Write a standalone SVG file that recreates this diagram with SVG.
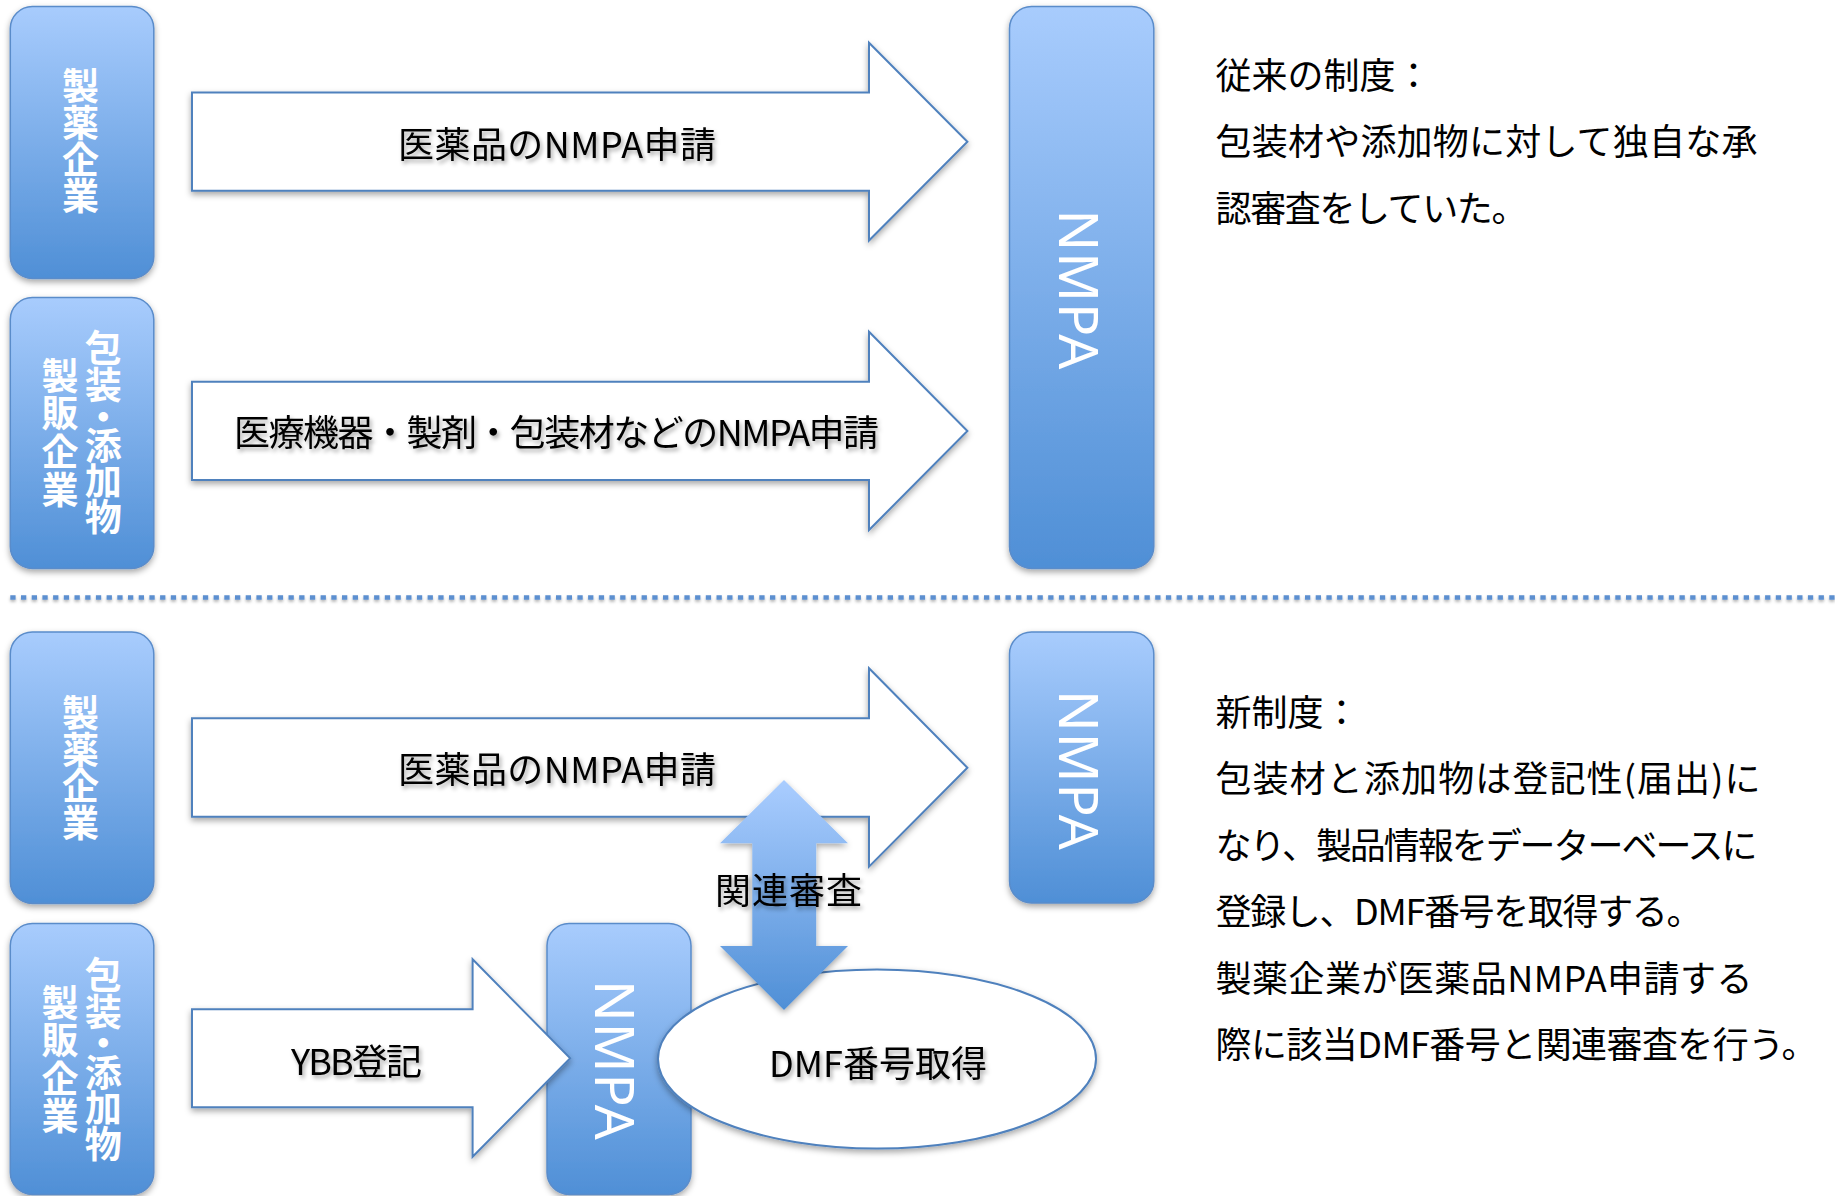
<svg xmlns="http://www.w3.org/2000/svg" width="1835" height="1196" viewBox="0 0 1835 1196">
<defs>
<linearGradient id="boxGrad" x1="0" y1="0" x2="0" y2="1">
<stop offset="0" stop-color="#a8ccfd"/>
<stop offset="1" stop-color="#4f8fd6"/>
</linearGradient>
<linearGradient id="dblGrad" gradientUnits="userSpaceOnUse" x1="0" y1="780" x2="0" y2="1010">
<stop offset="0" stop-color="#aacdff"/>
<stop offset="1" stop-color="#4f8fd6"/>
</linearGradient>
<filter id="shadow" x="-20%" y="-20%" width="140%" height="140%">
<feDropShadow dx="0" dy="3" stdDeviation="3" flood-color="#000" flood-opacity="0.35"/>
</filter>
<filter id="lshadow" filterUnits="userSpaceOnUse" x="0" y="585" width="1835" height="30">
<feDropShadow dx="0" dy="2" stdDeviation="1.5" flood-color="#000" flood-opacity="0.3"/>
</filter>
<filter id="tshadow" x="-10%" y="-30%" width="120%" height="160%">
<feDropShadow dx="2" dy="3" stdDeviation="2" flood-color="#000" flood-opacity="0.35"/>
</filter>
<style>
.box{fill:url(#boxGrad);stroke:#5a8cca;stroke-width:1.5;filter:url(#shadow)}
.boxtxt{font-family:"Noto Sans CJK JP",sans-serif;font-weight:bold;font-size:37px;fill:#fff;text-anchor:middle}
.nmpa{font-family:"Noto Sans","Liberation Sans",sans-serif;font-size:55px;fill:#fff;text-anchor:middle}
.arrow{fill:#fff;stroke:#4f81bd;stroke-width:2;filter:url(#shadow)}
.lbl{font-family:"Noto Sans CJK JP",sans-serif;font-size:36px;fill:#000;filter:url(#tshadow)}
.note{font-family:"Noto Sans CJK JP",sans-serif;font-size:36px;fill:#000}
.sep{stroke:#5b8fd0;stroke-width:4.5;stroke-dasharray:5.3 5.4;fill:none}
</style>
</defs>
<rect width="1835" height="1196" fill="#fff"/>

<g id="nodes">
<g id="pharma1">
<rect class="box" x="10.3" y="6.5" width="143.5" height="272" rx="22" ry="22"/>
<text class="boxtxt"><tspan x="80.5" y="100">製</tspan><tspan x="80.5" y="137">薬</tspan><tspan x="80.5" y="173.5">企</tspan><tspan x="80.5" y="210">業</tspan></text>
</g>
<g id="supplier1">
<rect class="box" x="10.3" y="297.5" width="143.5" height="271" rx="22" ry="22"/>
<text class="boxtxt"><tspan x="103.3" y="362">包</tspan><tspan x="103.3" y="399">装</tspan><tspan x="103.3" y="430.5">・</tspan><tspan x="103.3" y="460">添</tspan><tspan x="103.3" y="495">加</tspan><tspan x="103.3" y="531">物</tspan></text>
<text class="boxtxt"><tspan x="60" y="390">製</tspan><tspan x="60" y="427">販</tspan><tspan x="60" y="466">企</tspan><tspan x="60" y="503.5">業</tspan></text>
</g>
<g id="nmpa1">
<rect class="box" x="1009.5" y="6.5" width="144.3" height="562" rx="22" ry="22"/>
<text class="nmpa" textLength="160" transform="translate(1059,289.5) rotate(90)" x="0" y="0">NMPA</text>
</g>
<g id="note-old">
<text class="note" x="1215.5" y="88.5">従来の制度：</text>
<text class="note" x="1215.5" y="155" textLength="542">包装材や添加物に対して独自な承</text>
<text class="note" x="1215.5" y="221.5" textLength="312">認審査をしていた。</text>
</g>

<g id="pharma2">
<rect class="box" x="10.3" y="632" width="143.5" height="271.5" rx="22" ry="22"/>
<text class="boxtxt"><tspan x="80.5" y="726.5">製</tspan><tspan x="80.5" y="763.5">薬</tspan><tspan x="80.5" y="800">企</tspan><tspan x="80.5" y="836.5">業</tspan></text>
</g>
<g id="supplier2">
<rect class="box" x="10.3" y="923.5" width="143.5" height="271" rx="22" ry="22"/>
<text class="boxtxt"><tspan x="103.3" y="988.6">包</tspan><tspan x="103.3" y="1025.6">装</tspan><tspan x="103.3" y="1057.1">・</tspan><tspan x="103.3" y="1086.6">添</tspan><tspan x="103.3" y="1121.6">加</tspan><tspan x="103.3" y="1157.6">物</tspan></text>
<text class="boxtxt"><tspan x="60" y="1016.6">製</tspan><tspan x="60" y="1053.6">販</tspan><tspan x="60" y="1092.6">企</tspan><tspan x="60" y="1130.1">業</tspan></text>
</g>
<g id="nmpa2">
<rect class="box" x="1009.5" y="632" width="144.3" height="271" rx="22" ry="22"/>
<text class="nmpa" textLength="160" transform="translate(1059,770) rotate(90)" x="0" y="0">NMPA</text>
</g>
<g id="nmpa3">
<rect class="box" x="547" y="923.5" width="144" height="271" rx="22" ry="22"/>
<text class="nmpa" textLength="160" transform="translate(595,1060) rotate(90)" x="0" y="0">NMPA</text>
</g>
<g id="dmf">
<ellipse cx="877" cy="1059" rx="219" ry="89.5" fill="#fff" stroke="#4f81bd" stroke-width="2" filter="url(#shadow)"/>
<text class="lbl" x="769" y="1077" textLength="218">DMF番号取得</text>
</g>
<g id="note-new">
<text class="note" x="1215.5" y="726">新制度：</text>
<text class="note" x="1215.5" y="792" textLength="545">包装材と添加物は登記性(届出)に</text>
<text class="note" x="1215.5" y="859" textLength="542">なり、製品情報をデーターベースに</text>
<text class="note" x="1215.5" y="925" textLength="487">登録し、DMF番号を取得する。</text>
<text class="note" x="1215.5" y="992" textLength="537">製薬企業が医薬品NMPA申請する</text>
<text class="note" x="1215.5" y="1058" textLength="602">際に該当DMF番号と関連審査を行う。</text>
</g>
</g>

<line class="sep" x1="10.3" y1="597.5" x2="1835" y2="597.5" filter="url(#lshadow)"/>

<g id="connectors">
<g id="arrow-old-1">
<polygon class="arrow" points="192,92.5 869,92.5 869,42.7 967.4,141.7 869,240.5 869,190.7 192,190.7"/>
<text class="lbl" x="398" y="157.5" textLength="318">医薬品のNMPA申請</text>
</g>
<g id="arrow-old-2">
<polygon class="arrow" points="192,381.7 869,381.7 869,331.7 967.4,431 869,530 869,480 192,480"/>
<text class="lbl" x="234" y="446" textLength="645">医療機器・製剤・包装材などのNMPA申請</text>
</g>
<g id="arrow-new-1">
<polygon class="arrow" points="192,718.3 869,718.3 869,668.3 967.4,767.7 869,866.7 869,816.7 192,816.7"/>
<text class="lbl" x="398" y="783" textLength="318">医薬品のNMPA申請</text>
</g>
<g id="arrow-ybb">
<polygon class="arrow" points="192,1009.3 472.6,1009.3 472.6,959.3 570.2,1058.3 472.6,1156.7 472.6,1107.3 192,1107.3"/>
<text class="lbl" x="291" y="1075" textLength="131">YBB登記</text>
</g>
<g id="arrow-review">
<polygon points="784,780 848,843.3 816.2,843.3 816.2,946 848,946 784,1010 720,946 752.3,946 752.3,843.3 720,843.3" fill="url(#dblGrad)" filter="url(#shadow)"/>
<text class="lbl" x="715" y="903.5" textLength="147">関連審査</text>
</g>
</g>
</svg>
